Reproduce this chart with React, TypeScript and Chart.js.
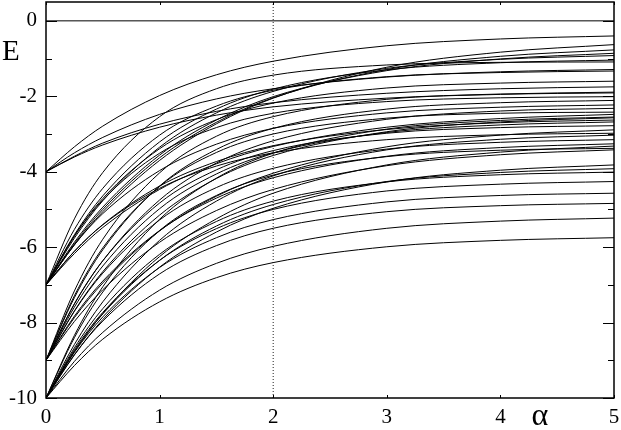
import React, { useEffect, useRef } from "react";
import { Chart, registerables } from "chart.js";

Chart.register(...registerables);

// ---- data ----
const ALPHA = [0, 0.25, 0.5, 1, 1.5, 2, 3, 4, 5];

// curves starting at E = -4
const C01 = [-4, -3.34, -2.79, -1.98, -1.43, -1.07, -0.66, -0.48, -0.4];
const C02 = [-4, -3.5, -3.09, -2.48, -2.07, -1.8, -1.49, -1.35, -1.29];
const C03 = [-4, -3.59, -3.24, -2.74, -2.4, -2.17, -1.92, -1.8, -1.75];
const C04 = [-4, -3.61, -3.29, -2.82, -2.5, -2.28, -2.05, -1.94, -1.89];
// curves starting at E = -7
const C05 = [-7, -5.94, -5.06, -3.7, -2.73, -2.05, -1.23, -0.83, -0.63];
const C06 = [-7, -5.91, -5.0, -3.63, -2.69, -2.04, -1.29, -0.94, -0.77];
const C07 = [-7, -5.87, -4.94, -3.56, -2.63, -2.01, -1.32, -1.01, -0.86];
const C08 = [-7, -5.76, -4.77, -3.35, -2.44, -1.87, -1.26, -1.02, -0.92];
const C09 = [-7, -5.67, -4.64, -3.21, -2.34, -1.81, -1.3, -1.11, -1.04];
const C10 = [-7, -5.25, -4.02, -2.54, -1.8, -1.44, -1.17, -1.1, -1.09];
const C11 = [-7, -5.53, -4.44, -3.03, -2.26, -1.84, -1.48, -1.37, -1.33];
const C12 = [-7, -5.7, -4.71, -3.39, -2.62, -2.18, -1.78, -1.65, -1.6];
const C13 = [-7, -5.71, -4.75, -3.51, -2.83, -2.45, -2.14, -2.04, -2.01];
const C14 = [-7, -5.94, -5.11, -3.97, -3.27, -2.85, -2.44, -2.29, -2.23];
const C15 = [-7, -6.11, -5.4, -4.38, -3.73, -3.31, -2.88, -2.7, -2.63];
const C16 = [-7, -6.11, -5.41, -4.44, -3.85, -3.5, -3.15, -3.02, -2.98];
const C40 = [-7, -6.17, -5.48, -4.47, -3.79, -3.33, -2.82, -2.59, -2.48];
// curves starting at E = -9
const C17 = [-9, -7.16, -5.79, -4.03, -3.06, -2.54, -2.08, -1.95, -1.91];
const C18 = [-9, -7.34, -6.07, -4.38, -3.41, -2.85, -2.34, -2.17, -2.11];
const C19 = [-9, -7.51, -6.36, -4.75, -3.77, -3.18, -2.61, -2.39, -2.32];
const C20 = [-9, -7.29, -6.02, -4.39, -3.49, -3.0, -2.58, -2.45, -2.42];
const C21 = [-9, -7.69, -6.65, -5.15, -4.18, -3.57, -2.94, -2.68, -2.57];
const C22 = [-9, -7.59, -6.5, -4.98, -4.06, -3.5, -2.96, -2.76, -2.68];
const C23 = [-9, -7.87, -6.95, -5.57, -4.65, -4.04, -3.34, -3.03, -2.89];
const C24 = [-9, -7.7, -6.69, -5.28, -4.42, -3.91, -3.4, -3.22, -3.15];
const C25 = [-9, -7.83, -6.9, -5.56, -4.7, -4.16, -3.59, -3.36, -3.26];
const C26 = [-9, -7.97, -7.13, -5.87, -5.03, -4.47, -3.84, -3.55, -3.42];
const C27 = [-9, -7.5, -6.36, -4.83, -3.95, -3.44, -2.98, -2.83, -2.78];
// curves starting at E = -10
const C28 = [-10, -8.34, -7.05, -5.26, -4.17, -3.51, -2.87, -2.64, -2.55];
const C29 = [-10, -8.58, -7.45, -5.82, -4.78, -4.11, -3.42, -3.14, -3.03];
const C30 = [-10, -8.4, -7.19, -5.56, -4.63, -4.09, -3.6, -3.43, -3.38];
const C39 = [-10, -8.77, -7.76, -6.25, -5.25, -4.57, -3.82, -3.48, -3.32];
const C31 = [-10, -8.86, -7.92, -6.53, -5.6, -4.97, -4.27, -3.96, -3.82];
const C32 = [-10, -8.76, -7.77, -6.35, -5.44, -4.87, -4.26, -4.02, -3.92];
const C33 = [-10, -8.67, -7.63, -6.19, -5.32, -4.78, -4.27, -4.08, -4.01];
const C34 = [-10, -8.72, -7.73, -6.35, -5.51, -5.0, -4.51, -4.33, -4.26];
const C35 = [-10, -8.79, -7.85, -6.54, -5.75, -5.27, -4.8, -4.63, -4.57];
const C36 = [-10, -8.85, -7.96, -6.71, -5.96, -5.5, -5.06, -4.9, -4.84];
const C37 = [-10, -9.03, -8.26, -7.14, -6.43, -5.98, -5.5, -5.31, -5.23];
const C38 = [-10, -9.14, -8.44, -7.45, -6.81, -6.41, -5.99, -5.82, -5.75];

const CURVES = [
  C01, C02, C03, C04,
  C05, C06, C07, C08, C09, C10, C11, C12, C13, C14, C15, C16, C40,
  C17, C18, C19, C20, C21, C22, C23, C24, C25, C26, C27,
  C28, C29, C30, C39, C31, C32, C33, C34, C35, C36, C37, C38,
];

const X_MIN = 0;
const X_MAX = 5;
const Y_MIN = -10;
const Y_MAX = 0.5;
const X_TICKS = [0, 1, 2, 3, 4, 5];
const Y_TICKS = [-10, -8, -6, -4, -2, 0];
const Y_MINOR = [-9, -7, -5, -3, -1];
const ZERO_E = 0;
const DOTTED_ALPHA = 2;
const Y_TITLE = "E";
const X_TITLE = "α";

const FONT = '"Liberation Serif", "Times New Roman", serif';

const framePlugin = {
  id: "frame",
  afterDatasetsDraw(chart: any) {
    const { ctx, chartArea: a, scales } = chart;
    const xs = scales.x;
    const ys = scales.y;
    ctx.save();
    ctx.strokeStyle = "#000";
    ctx.lineWidth = 1.5;
    ctx.strokeRect(a.left, a.top, a.right - a.left, a.bottom - a.top);
    ctx.lineWidth = 1;
    ctx.beginPath();
    for (const v of Y_TICKS) {
      const p = Math.round(ys.getPixelForValue(v)) + 0.5;
      ctx.moveTo(a.left, p);
      ctx.lineTo(a.left + 11, p);
      ctx.moveTo(a.right, p);
      ctx.lineTo(a.right - 11, p);
    }
    for (const v of Y_MINOR) {
      const p = Math.round(ys.getPixelForValue(v)) + 0.5;
      ctx.moveTo(a.left, p);
      ctx.lineTo(a.left + 6, p);
      ctx.moveTo(a.right, p);
      ctx.lineTo(a.right - 6, p);
    }
    for (const v of X_TICKS) {
      const p = Math.round(xs.getPixelForValue(v)) + 0.5;
      ctx.moveTo(p, a.bottom);
      ctx.lineTo(p, a.bottom - 3);
      ctx.moveTo(p, a.top);
      ctx.lineTo(p, a.top + 3);
    }
    ctx.stroke();
    ctx.fillStyle = "#000";
    ctx.textBaseline = "alphabetic";
    ctx.textAlign = "left";
    ctx.font = `29px ${FONT}`;
    ctx.fillText(Y_TITLE, 2, 60);
    ctx.textAlign = "center";
    ctx.font = `32px ${FONT}`;
    ctx.fillText(X_TITLE, 540, 425);
    ctx.restore();
  },
};

export default function App() {
  const ref = useRef<HTMLCanvasElement>(null);

  useEffect(() => {
    const canvas = ref.current;
    if (!canvas) return;
    const line = (pts: { x: number; y: number }[], extra: any = {}) => ({
      data: pts,
      borderColor: "#000",
      borderWidth: 1,
      pointRadius: 0,
      fill: false,
      cubicInterpolationMode: "monotone",
      ...extra,
    });
    const datasets: any[] = CURVES.map((c) =>
      line(ALPHA.map((a, i) => ({ x: a, y: c[i] })))
    );
    datasets.push(
      line([
        { x: X_MIN, y: ZERO_E },
        { x: X_MAX, y: ZERO_E },
      ])
    );
    datasets.push(
      line(
        [
          { x: DOTTED_ALPHA, y: Y_MIN },
          { x: DOTTED_ALPHA, y: Y_MAX },
        ],
        { borderDash: [1, 2], borderColor: "#222", cubicInterpolationMode: "default" }
      )
    );

    const tickFont = { family: FONT, size: 21 };
    const chart = new Chart(canvas, {
      type: "line",
      data: { datasets },
      options: {
        animation: false,
        responsive: false,
        devicePixelRatio: 1,
        events: [],
        layout: { padding: { top: 2, right: 7, left: 0, bottom: 0 } },
        plugins: {
          legend: { display: false },
          tooltip: { enabled: false },
        },
        scales: {
          x: {
            type: "linear",
            min: X_MIN,
            max: X_MAX,
            afterBuildTicks: (s: any) => {
              s.ticks = X_TICKS.map((v) => ({ value: v }));
            },
            afterFit: (s: any) => {
              s.height = 32;
              s.paddingLeft = 0;
              s.paddingRight = 0;
            },
            grid: { display: false, drawTicks: false },
            border: { display: false },
            ticks: {
              font: tickFont,
              color: "#000",
              padding: 7,
              maxRotation: 0,
              autoSkip: false,
              callback: (v: any) => String(v),
            },
          },
          y: {
            type: "linear",
            min: Y_MIN,
            max: Y_MAX,
            afterBuildTicks: (s: any) => {
              s.ticks = Y_TICKS.map((v) => ({ value: v }));
            },
            afterFit: (s: any) => {
              s.width = 46;
              s.paddingTop = 0;
              s.paddingBottom = 0;
            },
            grid: { display: false, drawTicks: false },
            border: { display: false },
            ticks: {
              font: tickFont,
              color: "#000",
              padding: 9,
              autoSkip: false,
              callback: (v: any) => String(v),
            },
          },
        },
      } as any,
      plugins: [framePlugin],
    });
    return () => chart.destroy();
  }, []);

  return (
    <div style={{ position: "absolute", left: 0, top: 0, width: 621, height: 430 }}>
      <canvas ref={ref} width={621} height={430} style={{ display: "block" }} />
    </div>
  );
}
